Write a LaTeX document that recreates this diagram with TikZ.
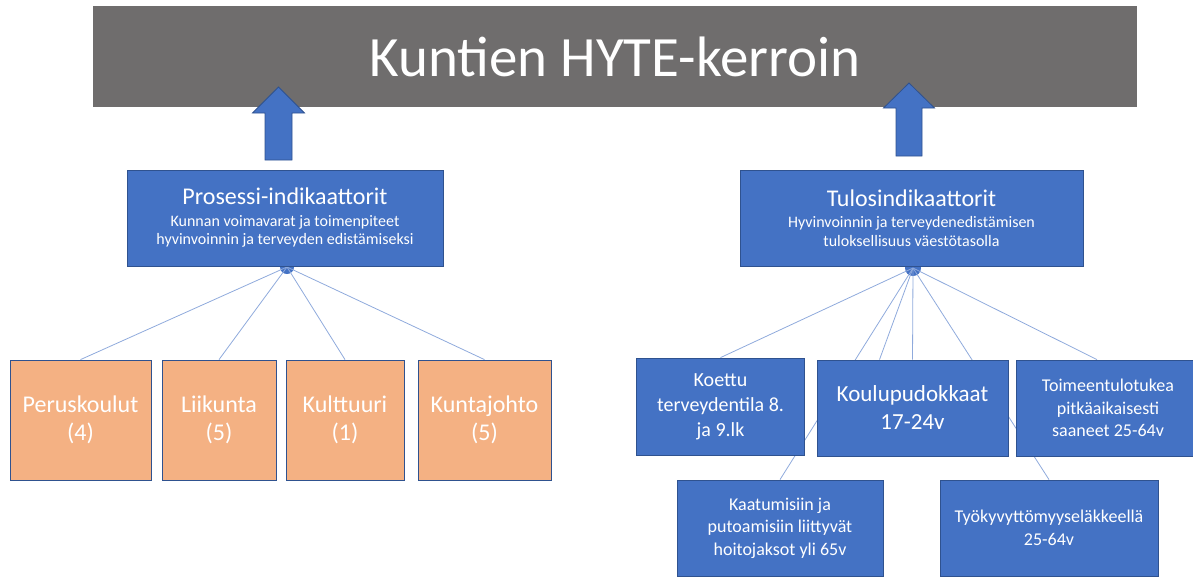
\documentclass[tikz,border=0pt]{standalone}
\usepackage{fontspec}
\setmainfont{Carlito}
\usepackage{tikz}
\usetikzlibrary{positioning,calc,backgrounds}
\definecolor{titlegray}{HTML}{6F6D6D}
\definecolor{boxblue}{HTML}{4472C4}
\definecolor{boxedge}{HTML}{2F528F}
\definecolor{boxorange}{HTML}{F4B183}
\definecolor{linkblue}{HTML}{8FAADC}

\begin{document}
\begin{tikzpicture}[x=1pt,y=-1pt,
  titlebar/.style={fill=titlegray,text=white,inner sep=0pt,
    font=\fontsize{57}{68}\selectfont},
  mainbox/.style={draw=boxedge,line width=0.8pt,fill=boxblue,text=white,
    align=center,inner sep=0pt,minimum height=96pt,
    font=\fontsize{16}{18.5}\selectfont},
  orangebox/.style={draw=boxedge,line width=0.8pt,fill=boxorange,text=white,
    align=center,inner sep=0pt,minimum height=120pt,
    font=\fontsize{24}{28}\selectfont},
  bluebox/.style={draw=boxedge,line width=0.8pt,fill=boxblue,text=white,
    align=center,inner sep=0pt,minimum height=96pt},
  uparrow/.style={draw=boxedge,line width=0.8pt,fill=boxblue,line join=miter},
  hub/.style={circle,fill=boxblue,inner sep=0pt,minimum size=14pt},
  link/.style={draw=linkblue,line width=0.8pt}]
\clip (0,0) rectangle (1193,576);

\node[titlebar,minimum width=1044pt,minimum height=101pt] (title) at (615,56.5) {Kuntien HYTE-kerroin};

\node[mainbox,minimum width=316pt] (proc) at (285,218)
  {{\fontsize{24}{29}\selectfont Prosessi-indikaattorit}\\[3pt]
   Kunnan voimavarat ja toimenpiteet\\hyvinvoinnin ja terveyden edistämiseksi};
\node[mainbox,minimum width=343pt] (tulos) at (911.5,218)
  {{\fontsize{24}{29}\selectfont Tulosindikaattorit}\\[3pt]
   Hyvinvoinnin ja terveydenedistämisen\\tuloksellisuus väestötasolla};

\node[orangebox,minimum width=141pt] (perus) at (80.5,420) {Peruskoulut\\(4)};
\node[orangebox,minimum width=114pt] (liik) at (219,420) {Liikunta\\(5)};
\node[orangebox,minimum width=118pt] (kult) at (345,420) {Kulttuuri\\(1)};
\node[orangebox,minimum width=133pt] (kjoh) at (484.5,420) {Kuntajohto\\(5)};

\node[bluebox,minimum width=168pt,minimum height=97pt,font=\fontsize{20}{25}\selectfont] (koettu) at (720.5,406.5)
  {Koettu\\terveydentila 8.\\ja 9.lk};
\node[bluebox,minimum width=191pt,font=\fontsize{23}{28}\selectfont] (koulu) at (912.5,408)
  {Koulupudokkaat\\17-24v};
\node[bluebox,minimum width=184pt,font=\fontsize{18}{22.5}\selectfont] (toim) at (1108,408)
  {Toimeentulotukea\\pitkäaikaisesti\\saaneet 25-64v};
\node[bluebox,minimum width=206pt,font=\fontsize{18}{22.5}\selectfont] (kaat) at (780,528)
  {Kaatumisiin ja\\putoamisiin liittyvät\\hoitojaksot yli 65v};
\node[bluebox,minimum width=218pt,font=\fontsize{18}{23}\selectfont] (tyo) at (1049,528)
  {Työkyvyttömyyseläkkeellä\\25-64v};

\begin{scope}[on background layer]
\node[hub] (hubL) at (287,267) {};
\node[hub,minimum size=16pt] (hubR) at (913,268) {};
\draw[link] (hubL.center) -- (perus.north);
\draw[link] (hubL.center) -- (liik.north);
\draw[link] (hubL.center) -- (kult.north);
\draw[link] (hubL.center) -- (kjoh.north);
\draw[link] (hubR.center) -- (koettu.north);
\draw[link] (hubR.center) -- (kaat.north);
\draw[link] (hubR.center) -- ($(koulu.north)+(-33,0)$);
\draw[link] (hubR.center) -- (koulu.north);
\draw[link] (hubR.center) -- (tyo.north);
\draw[link] (hubR.center) -- ($(toim.north)+(-11,0)$);
\end{scope}

\coordinate (arrL) at (278.5,160);
\coordinate (arrR) at (909,156);
\draw[uparrow] (arrL) ++(-13.5,0) -- ++(0,-47) -- ++(-12.5,0) -- ++(26,-26)
  -- ++(26,26) -- ++(-12.5,0) -- ++(0,47) -- cycle;
\draw[uparrow] (arrR) ++(-13,0) -- ++(0,-48) -- ++(-12.5,0) -- ++(25.5,-25)
  -- ++(25.5,25) -- ++(-12.5,0) -- ++(0,48) -- cycle;
\end{tikzpicture}
\end{document}
